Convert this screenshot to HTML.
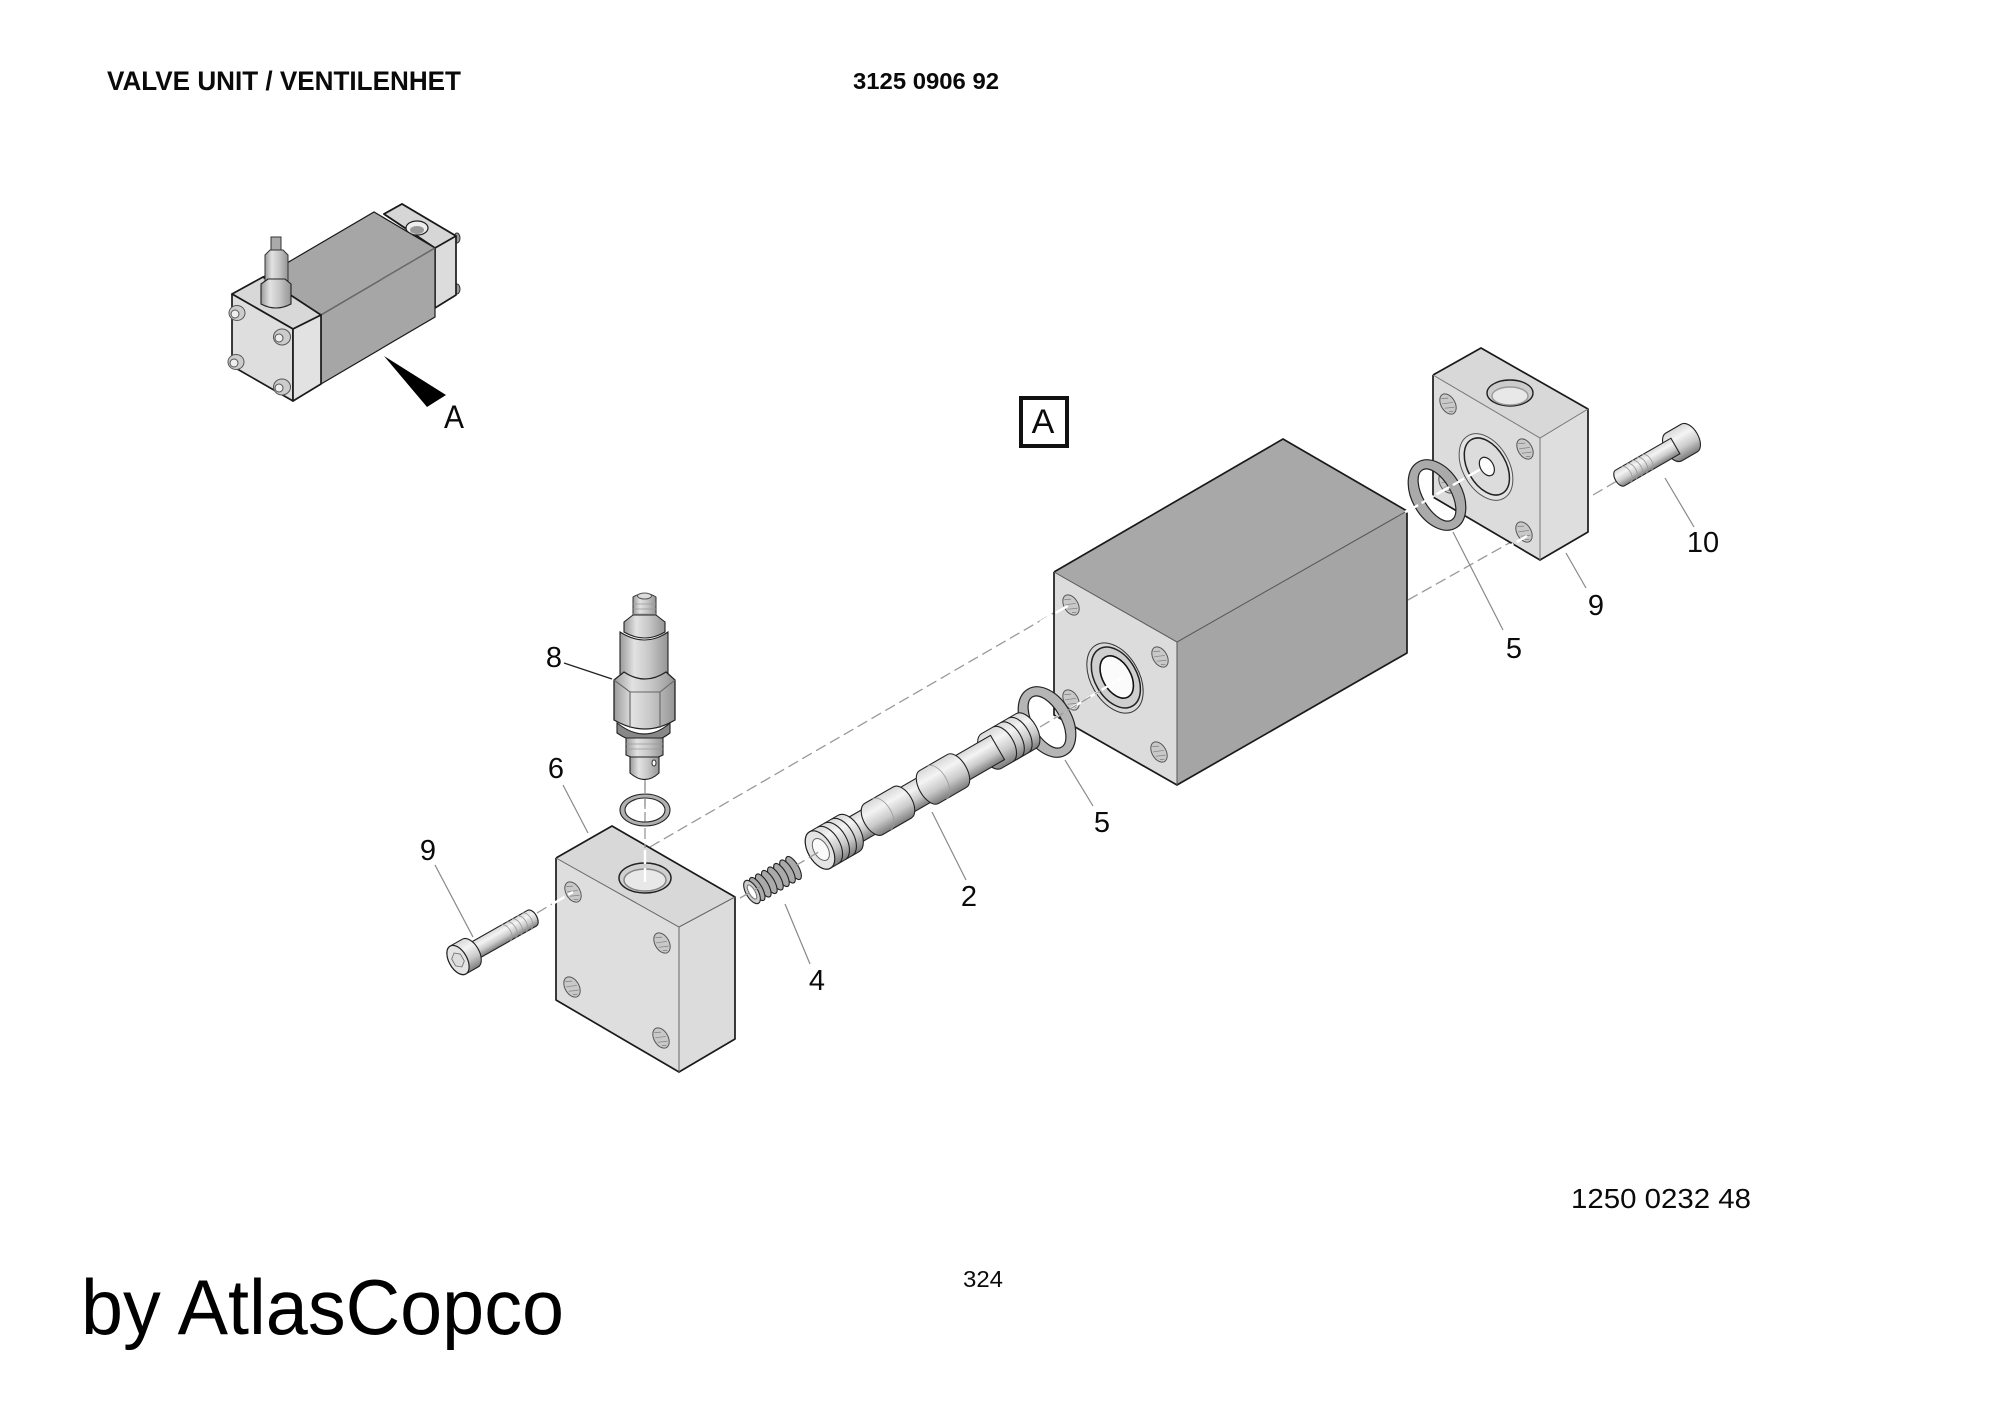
<!DOCTYPE html>
<html><head><meta charset="utf-8"><style>
html,body{margin:0;padding:0;background:#fff}
svg{display:block}
text{font-family:"Liberation Sans",Arial,sans-serif;fill:#0a0a0a}
.o{stroke:#1a1a1a;stroke-width:1.7;stroke-linejoin:round}
.e{stroke:#666;stroke-width:1.1}
.l{stroke:#888;stroke-width:1.2}
.d{stroke:#999;stroke-width:1.3;stroke-dasharray:11 5}
.w{stroke:#fff;stroke-width:2.4;stroke-dasharray:14 4}
.n{font-size:29px;text-anchor:middle}
.k{stroke:#222;stroke-width:1.1}
.g{stroke:#999;stroke-width:.8}
</style></head><body>
<svg width="2000" height="1413" viewBox="0 0 2000 1413" xmlns="http://www.w3.org/2000/svg" fill="none">
<defs>
<linearGradient id="c" x1="0" y1="0" x2="0" y2="1"><stop offset="0" stop-color="#d8d8d8"/><stop offset=".3" stop-color="#f4f4f4"/><stop offset=".65" stop-color="#cacaca"/><stop offset="1" stop-color="#7c7c7c"/></linearGradient>
<linearGradient id="v" x1="0" y1="0" x2="1" y2="0"><stop offset="0" stop-color="#9a9a9a"/><stop offset=".3" stop-color="#e2e2e2"/><stop offset=".6" stop-color="#c8c8c8"/><stop offset="1" stop-color="#959595"/></linearGradient>
<g id="h"><ellipse rx="7" ry="11" fill="#c9c9c9" stroke="#555" stroke-width="1"/><path d="M-3-8 3-5M-5-3 5 1M-5 2 4 6M-3 7 1 9" stroke="#888" stroke-width=".8" fill="none"/></g>
</defs>
<rect width="2000" height="1413" fill="#fff"/>

<text x="107" y="90" font-size="27" font-weight="700" textLength="354" lengthAdjust="spacingAndGlyphs">VALVE UNIT / VENTILENHET</text>
<text x="853" y="89" font-size="23" font-weight="700" textLength="146" lengthAdjust="spacingAndGlyphs">3125 0906 92</text>
<text x="1571" y="1208" font-size="28" textLength="180" lengthAdjust="spacingAndGlyphs">1250 0232 48</text>
<text x="963" y="1287" font-size="23" textLength="40" lengthAdjust="spacingAndGlyphs">324</text>
<text x="81" y="1334" font-size="78" textLength="483" lengthAdjust="spacingAndGlyphs" style="fill:#000">by AtlasCopco</text>

<!-- inset -->
<ellipse cx="457" cy="238" rx="3" ry="5" fill="#999" stroke="#333"/>
<ellipse cx="457" cy="289" rx="3" ry="5" fill="#999" stroke="#333"/>
<polygon points="384,214 402,204 456,236 456,295 435,308 435,248" fill="#dcdcdc" class="o"/>
<path d="M435 248 456 236" class="e"/>
<polygon points="384,214 402,204 456,236 435,248" fill="#d6d6d6" class="o"/>
<ellipse cx="417" cy="228" rx="11" ry="7" fill="#eee" stroke="#222" stroke-width="1.2"/>
<ellipse cx="417" cy="230" rx="7" ry="4" fill="#999"/>
<polygon points="263,277 374,212 435,248 321,315" fill="#a6a6a6" stroke="#1a1a1a" stroke-width="1.2"/>
<polygon points="321,315 435,248 435,317 321,384" fill="#a6a6a6" stroke="#1a1a1a" stroke-width="1.2"/>
<path d="M321 315 435 248" stroke="#777" stroke-width="1"/>
<polygon points="232,294 263,277 321,315 293,329" fill="#d8d8d8" class="o"/>
<polygon points="232,294 293,329 293,401 232,366" fill="#dedede" class="o"/>
<polygon points="293,329 321,315 321,384 293,401" fill="#e2e2e2" class="o"/>
<g fill="#ccc" stroke="#555" stroke-width="1">
<ellipse cx="237" cy="313" rx="8" ry="7.5"/><ellipse cx="282" cy="337" rx="8.5" ry="8"/><ellipse cx="236" cy="362" rx="8" ry="7.5"/><ellipse cx="282" cy="387" rx="8.5" ry="8"/>
<circle cx="235" cy="314" r="4" fill="#eee"/><circle cx="279" cy="338" r="4" fill="#eee"/><circle cx="234" cy="363" r="4" fill="#eee"/><circle cx="279" cy="388" r="4" fill="#eee"/>
</g>
<rect x="271" y="237" width="10" height="15" fill="#aaa" stroke="#333" stroke-width="1"/>
<path d="M265 255 270 250H283L288 255V284H265Z" fill="url(#v)" stroke="#333" stroke-width="1"/>
<path d="M261 284 268 279H285L291 284V304Q276 312 261 304Z" fill="url(#v)" stroke="#222" stroke-width="1.1"/>
<polygon points="384,356 446,395 427,407" fill="#000"/>
<text x="454" y="428" font-size="32" text-anchor="middle" textLength="20" lengthAdjust="spacingAndGlyphs">A</text>

<rect x="1027" y="398" width="46" height="48" transform="translate(-6,0)" stroke="#111" stroke-width="4"/>
<text x="1043" y="433" font-size="34" text-anchor="middle">A</text>

<!-- back dashed -->
<path d="M650 847 1071 603" class="d"/>
<path d="M1408 600 1527 533" class="d"/>
<path d="M1593 495 1622 478" class="d"/>

<!-- main block -->
<polygon points="1054,572 1283,439 1407,511 1177,642" fill="#a8a8a8"/>
<polygon points="1177,642 1407,511 1407,653 1177,785" fill="#a5a5a5"/>
<polygon points="1054,572 1177,642 1177,785 1054,715" fill="#dcdcdc"/>
<path d="M1054 572 1283 439 1407 511V653L1177 785 1054 715V572" class="o"/>
<path d="M1054 572 1177 642 1407 511M1177 642V785" stroke="#555" stroke-width="1"/>
<use href="#h" transform="translate(1071,605) rotate(-30)"/>
<use href="#h" transform="translate(1160,657) rotate(-30)"/>
<use href="#h" transform="translate(1071,700) rotate(-30)"/>
<use href="#h" transform="translate(1159,752) rotate(-30)"/>
<g transform="translate(1115,678) rotate(-30)">
<ellipse rx="24" ry="38" fill="#d9d9d9" stroke="#333" stroke-width="1"/>
<ellipse cx="1" rx="21" ry="33" fill="#cfcfcf" stroke="#222" stroke-width="1.5"/>
<ellipse cx="2" rx="14" ry="23" fill="#fbfbfb" stroke="#111" stroke-width="1.6"/>
</g>
<path d="M1040 727 1123 677" class="w"/>
<path d="M1040 622 1071 604" class="w"/>

<!-- ring 5 main -->
<g transform="translate(1047,722) rotate(-30)">
<path fill-rule="evenodd" d="M-25 0A25 38 0 1 1 25 0A25 38 0 1 1-25 0ZM-14 0A14 29 0 1 0 14 0A14 29 0 1 0-14 0Z" fill="#b5b5b5" stroke="#222" stroke-width="1.2"/>
</g>
<path d="M1040 727 1100 691" class="d"/>

<!-- shaft -->
<g transform="translate(820,850) rotate(-30)">
<path d="M198-20H238A11 20 0 0 1 238 20H198A11 20 0 0 1 198-20Z" fill="url(#c)" class="k"/>
<path d="M211-20A11 20 0 0 1 211 20M220-20A11 20 0 0 1 220 20M229-20A11 20 0 0 1 229 20" class="k"/>
<path d="M33-14H205V14H33Z" fill="url(#c)" class="k"/>
<path d="M126-19H158A10 19 0 0 1 158 19H126A10 19 0 0 1 126-19Z" fill="url(#c)" class="k"/>
<path d="M135-19A10 19 0 0 1 135 19" class="g"/>
<path d="M62-18H95A10 18 0 0 1 95 18H62A10 18 0 0 1 62-18Z" fill="url(#c)" class="k"/>
<path d="M71-18A10 18 0 0 1 71 18" class="g"/>
<path d="M0-21H33A12 21 0 0 1 33 21H0A12 21 0 0 1 0-21Z" fill="url(#c)" class="k"/>
<path d="M9-21A12 21 0 0 1 9 21M17-21A12 21 0 0 1 17 21M25-21A12 21 0 0 1 25 21" class="k"/>
<ellipse rx="12" ry="21" fill="#e4e4e4" stroke="#222" stroke-width="1.2"/>
<ellipse cx="1" rx="7" ry="12" fill="#fafafa" stroke="#666" stroke-width="1"/>
</g>

<!-- spring -->
<g transform="translate(752,892) rotate(-30)" fill="#aaa" stroke="#222" stroke-width="1.1">
<ellipse cx="48" rx="5" ry="13"/><ellipse cx="41" rx="5" ry="13"/><ellipse cx="34" rx="5" ry="13"/><ellipse cx="27" rx="5" ry="13"/><ellipse cx="20" rx="5" ry="13"/><ellipse cx="13" rx="5" ry="13"/><ellipse cx="6" rx="5" ry="13"/>
<ellipse cx="0" rx="6" ry="13" fill="#ccc"/><ellipse cx="0" rx="3" ry="8" fill="#fff" stroke="#777"/>
</g>
<path d="M740 898 760 887" class="d"/>
<path d="M795 866 822 850" class="d"/>

<!-- left block -->
<polygon points="556,858 612,826 735,897 679,927" fill="#d8d8d8"/>
<polygon points="556,858 679,927 679,1072 556,1000" fill="#dedede"/>
<polygon points="679,927 735,897 735,1039 679,1072" fill="#dcdcdc"/>
<path d="M556 858 612 826 735 897V1039L679 1072 556 1000V858" class="o"/>
<path d="M556 858 679 927 735 897M679 927V1072" stroke="#666" stroke-width="1"/>
<use href="#h" transform="translate(573,892) rotate(-30)"/>
<use href="#h" transform="translate(662,943) rotate(-30)"/>
<use href="#h" transform="translate(572,987) rotate(-30)"/>
<use href="#h" transform="translate(661,1038) rotate(-30)"/>
<ellipse cx="645" cy="878" rx="26" ry="15" fill="#d0d0d0" stroke="#222" stroke-width="1.5"/>
<ellipse cx="645" cy="880" rx="21" ry="11" fill="#e8e8e8" stroke="#888" stroke-width="1.5"/>
<path d="M645 850V884" class="w"/>
<path d="M645 780V848" class="d"/>
<path d="M537 913 573 892" class="w"/>
<path d="M537 913 552 904" class="d"/>

<!-- bolt left -->
<g transform="translate(458,960) rotate(-29.5)">
<path d="M10-9H85A5 9 0 0 1 85 9H10Z" fill="url(#c)" class="k"/>
<path d="M55-9A5 9 0 0 1 55 9M61-9A5 9 0 0 1 61 9M67-9A5 9 0 0 1 67 9M73-9A5 9 0 0 1 73 9M79-9A5 9 0 0 1 79 9" class="g"/>
<path d="M0-16H14A9 16 0 0 1 14 16H0A9 16 0 0 1 0-16Z" fill="url(#c)" class="k"/>
<ellipse rx="9" ry="16" fill="#e4e4e4" stroke="#222" stroke-width="1.2"/>
<polygon points="0,-8 5,-4 5,4 0,8 -5,4 -5,-4" fill="#ddd" stroke="#666" stroke-width=".8"/>
</g>

<!-- small ring -->
<path fill-rule="evenodd" d="M620 810A25 16 0 1 1 670 810A25 16 0 1 1 620 810ZM625 810A20 12 0 1 0 665 810A20 12 0 1 0 625 810Z" fill="#b0b0b0" stroke="#222" stroke-width="1.1"/>
<path d="M645 782V815" class="d"/>

<!-- valve 8 -->
<path d="M633 597Q645 590 656 597V622H633Z" fill="url(#v)" stroke="#333" stroke-width="1"/>
<path d="M633 604H656M633 609H656M633 614H656" class="g"/>
<ellipse cx="644.500" cy="596" rx="7" ry="3" fill="#ddd" stroke="#555"/>
<path d="M624 622 633 615H656L665 622V632Q645 644 624 632Z" fill="url(#v)" class="k"/>
<path d="M620 632Q645 648 668 632V676Q645 692 620 676Z" fill="url(#v)" class="k"/>
<path d="M614 680 624 672Q645 686 666 672L675 680V720Q645 738 614 720Z" fill="url(#v)" stroke="#222" stroke-width="1.3"/>
<path d="M630 692V728M660 692V728M614 680 630 692H660L675 680" class="e"/>
<path d="M617 723Q645 745 670 723V733Q645 752 617 733Z" fill="#888" class="k"/>
<path d="M626 738H663V755Q645 764 626 755Z" fill="url(#v)" class="k"/>
<path d="M626 744H663M626 749H663" class="g"/>
<path d="M630 757H659V773Q645 786 630 773Z" fill="url(#v)" class="k"/>
<ellipse cx="654" cy="763" rx="2" ry="3" fill="#fff" stroke="#333"/>

<!-- right block -->
<polygon points="1433,375 1481,348 1588,409 1540,438" fill="#d8d8d8"/>
<polygon points="1433,375 1540,438 1540,560 1433,497" fill="#dcdcdc"/>
<polygon points="1540,438 1588,409 1588,532 1540,560" fill="#dedede"/>
<path d="M1433 375 1481 348 1588 409V532L1540 560 1433 497V375" class="o"/>
<path d="M1433 375 1540 438 1588 409M1540 438V560" stroke="#777" stroke-width="1"/>
<use href="#h" transform="translate(1448,404) rotate(-30)"/>
<use href="#h" transform="translate(1525,449) rotate(-30)"/>
<use href="#h" transform="translate(1524,532) rotate(-30)"/>
<use href="#h" transform="translate(1447,483) rotate(-30)"/>
<ellipse cx="1510" cy="393" rx="23" ry="13" fill="#ccc" stroke="#222" stroke-width="1.4"/>
<ellipse cx="1510" cy="396" rx="18" ry="9" fill="#e8e8e8" stroke="#999" stroke-width="1.4"/>
<g transform="translate(1486,467) rotate(-30)">
<ellipse rx="23" ry="36" fill="#e2e2e2" stroke="#555" stroke-width="1"/>
<ellipse cx="1" rx="19" ry="31" fill="#dcdcdc" stroke="#222" stroke-width="1.5"/>
<ellipse cx="1" rx="6.500" ry="10" fill="#fbfbfb" stroke="#222" stroke-width="1.2"/>
</g>
<path d="M1405 512 1488 465" class="w"/>
<path d="M1470 569 1527 536" class="w" stroke-dasharray="8 5"/>

<!-- ring 5 right -->
<g transform="translate(1437,495) rotate(-30)">
<path fill-rule="evenodd" d="M-25 0A25 38 0 1 1 25 0A25 38 0 1 1-25 0ZM-14 0A14 29 0 1 0 14 0A14 29 0 1 0-14 0Z" fill="#aaa" stroke="#222" stroke-width="1.2"/>
</g>
<path d="M1406 512 1460 481" class="w"/>

<!-- right bolt -->
<g transform="translate(1620,478) rotate(-30)">
<path d="M62-16H80A9 16 0 0 1 80 16H62A9 16 0 0 1 62-16Z" fill="url(#c)" class="k"/>
<path d="M0-9H64V9H0A5 9 0 0 1 0-9Z" fill="url(#c)" class="k"/>
<path d="M7-9A5 9 0 0 1 7 9M13-9A5 9 0 0 1 13 9M19-9A5 9 0 0 1 19 9M25-9A5 9 0 0 1 25 9M31-9A5 9 0 0 1 31 9" class="g"/>
</g>

<!-- leaders -->
<path d="M564 663 612 679" stroke="#222" stroke-width="1.4"/>
<path d="M563 785 588 833M435 865 473 937M785 904 810 964M932 812 966 880M1065 760 1093 806M1453 532 1503 630M1566 553 1586 588M1665 478 1694 527" class="l"/>
<text class="n" x="554" y="667">8</text>
<text class="n" x="556" y="778">6</text>
<text class="n" x="428" y="860">9</text>
<text class="n" x="817" y="990">4</text>
<text class="n" x="969" y="906">2</text>
<text class="n" x="1102" y="832">5</text>
<text class="n" x="1514" y="658">5</text>
<text class="n" x="1596" y="615">9</text>
<text class="n" x="1703" y="552">10</text>
</svg>
</body></html>
